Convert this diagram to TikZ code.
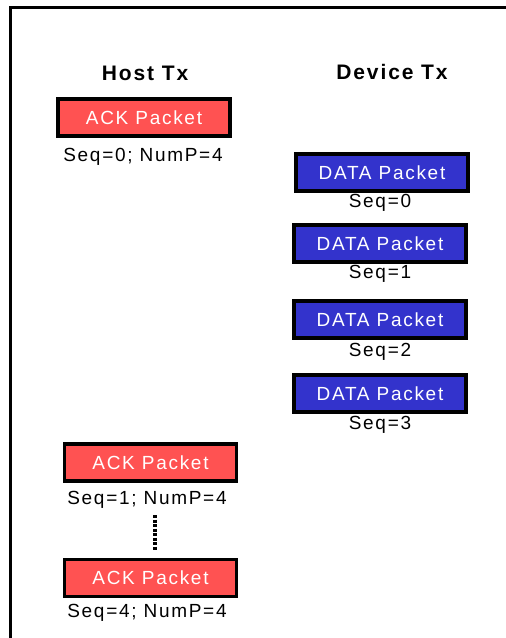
\documentclass[tikz,border=0pt]{standalone}
\usepackage{fontspec}
\setmainfont{Liberation Sans}
\newfontfamily\trackfont[LetterSpace=9]{Liberation Sans}
\usepackage{tikz}
\usetikzlibrary{positioning}

\definecolor{ackred}{RGB}{255,82,82}
\definecolor{datablue}{RGB}{51,51,204}

\tikzset{
    packet/.style={draw=black, line width=3.2pt, minimum width=172pt, minimum height=37pt,
        inner sep=0pt, text=white, font=\trackfont\fontsize{19}{22}\selectfont},
    ackbox/.style={packet, fill=ackred},
    databox/.style={packet, fill=datablue},
    seqlabel/.style={inner sep=0pt, font=\trackfont\fontsize{19}{22}\selectfont},
    header/.style={inner sep=0pt, font=\trackfont\bfseries\fontsize{21}{24}\selectfont}
}

\begin{document}
\begin{tikzpicture}[x=1pt,y=-1pt]
            \useasboundingbox (0,0) rectangle (506,638);
            \draw[line width=3pt] (10,640) -- (10,7) -- (506,7);
            \node[header] (hosttx) at (145,73) {Host Tx};
            \node[header] (devtx) at (392,72) {Device Tx};
            % host side
            \node[ackbox] (ackA) at (144,117.5) {ACK Packet};
            \node[seqlabel] (seqA) at (143,157) {Seq=0; NumP=4};
            \node[ackbox] (ackB) at (150.5,462.5) {ACK Packet};
            \node[seqlabel] (seqB) at (147,500) {Seq=1; NumP=4};
            \node[ackbox] (ackC) at (150.5,578) {ACK Packet};
            \node[seqlabel] (seqC) at (147,613) {Seq=4; NumP=4};
            \coordinate (dotTop) at (155,515);
            \coordinate (dotBot) at (155,550);
            \draw[line width=3.5pt, dash pattern=on 3pt off 1.5pt] (dotTop) -- (dotBot);
            % device side
            \node[databox] (data0) at (382,172.5) {DATA Packet};
            \node[seqlabel] (seq0) at (380,203) {Seq=0};
            \node[databox] (data1) at (380,243.5) {DATA Packet};
            \node[seqlabel] (seq1) at (380,274) {Seq=1};
            \node[databox] (data2) at (380,319.5) {DATA Packet};
            \node[seqlabel] (seq2) at (380,352) {Seq=2};
            \node[databox] (data3) at (380,393.5) {DATA Packet};
            \node[seqlabel] (seq3) at (380,425) {Seq=3};
        \end{tikzpicture}
\end{document}
